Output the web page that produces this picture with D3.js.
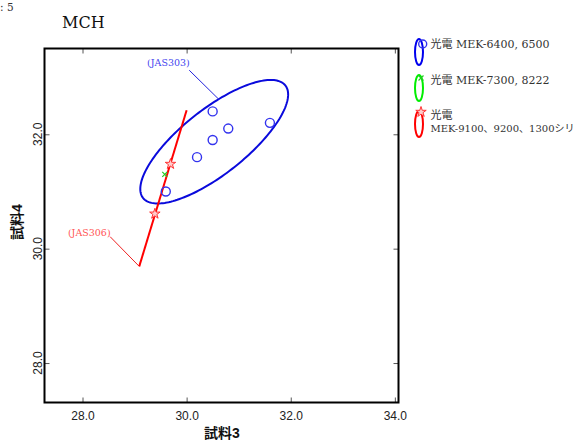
<!DOCTYPE html>
<html>
<head>
<meta charset="utf-8">
<script src="https://cdn.jsdelivr.net/npm/d3@7"></script>
<style>
  html, body { margin: 0; padding: 0; background: #fff; }
  svg { display: block; }
</style>
</head>
<body>
<div id="chart"></div>
<script>
// ---------- data ----------
const xTicks = [28, 30, 32, 34];
const yTicks = [28, 30, 32];
const xDomain = [27.27, 34.07];
const yDomain = [27.31, 33.50];

// 光電 MEK-6400, 6500 (blue circles)
const blueX = [30.5, 31.6, 30.8, 30.5, 30.2, 29.6];
const blueY = [32.4, 32.2, 32.1, 31.9, 31.6, 31.0];
// 光電 MEK-7300, 8222 (green x)
const greenX = [29.58];
const greenY = [31.30];
// 光電 MEK-9100、9200、1300シリーズ (red stars)
const redX = [29.69, 29.39];
const redY = [31.48, 30.61];
// red regression segment
const redLineX = [29.09, 30.00];
const redLineY = [29.69, 32.42];
// blue ellipse: centre, spreads, correlation
const ellCenter = [30.53, 31.87];
const ellSpread = [1.42, 1.08];
const ellRho = 0.765;

// annotations
const annoLabels = ["(JAS303)", "(JAS306)"];
const annoTextX = [29.65, 28.13];
const annoTextY = [33.19, 30.23];
const annoFromX = [30.05, 28.53];
const annoFromY = [33.12, 30.21];
const annoToX = [30.62, 29.09];
const annoToY = [32.61, 29.69];
const annoColors = ["#4444ee", "#ff5555"];

const legendLabels = [["光電 MEK-6400, 6500"], ["光電 MEK-7300, 8222"], ["光電", "MEK-9100、9200、1300シリ"]];
const legendColors = ["#0000ee", "#00ee00", "#ff0000"];

// ---------- drawing ----------
const W = 580, H = 441;
const svg = d3.select("#chart").append("svg").attr("width", W).attr("height", H);

const x = d3.scaleLinear().domain(xDomain).range([44.5, 398.5]);
const y = d3.scaleLinear().domain(yDomain).range([402.5, 48.5]);

const serif = "'DejaVu Serif', 'Liberation Serif', 'Noto Sans CJK JP', serif";
const sans = "'Liberation Sans', Arial, 'Noto Sans CJK JP', sans-serif";

svg.append("text").attr("x", 0).attr("y", 11).attr("font-family", serif)
  .attr("font-size", 10.5).attr("fill", "#333").text(": 5");

svg.append("text").attr("x", 62).attr("y", 28).attr("font-family", serif)
  .attr("font-size", 16).attr("fill", "#111").text("MCH");

// axes (ticks inward)
const axisStyle = g => {
  g.select(".domain").remove();
  g.selectAll(".tick line").attr("stroke", "#555").attr("stroke-width", 1);
};
svg.append("g").attr("transform", `translate(0,${y.range()[0]})`)
  .call(d3.axisBottom(x).tickValues(xTicks).tickSize(-5).tickPadding(9).tickFormat(d3.format(".1f")))
  .call(axisStyle)
  .call(g => g.selectAll("text").attr("font-family", sans).attr("font-size", 12).attr("fill", "#222"));
svg.append("g").attr("transform", `translate(0,${y.range()[1]})`)
  .call(d3.axisTop(x).tickValues(xTicks).tickSize(-5).tickFormat(""))
  .call(axisStyle);
svg.append("g").attr("transform", `translate(${x.range()[0]},0)`)
  .call(d3.axisLeft(y).tickValues(yTicks).tickSize(-5).tickFormat(""))
  .call(axisStyle);
svg.append("g").attr("transform", `translate(${x.range()[1]},0)`)
  .call(d3.axisRight(y).tickValues(yTicks).tickSize(-5).tickFormat(""))
  .call(axisStyle);

svg.append("g").selectAll("text").data(yTicks).join("text")
  .attr("transform", d => `translate(41.5,${y(d)}) rotate(-90)`)
  .attr("text-anchor", "middle").attr("font-family", sans).attr("font-size", 12)
  .attr("fill", "#222").text(d3.format(".1f"));

// frame
svg.append("rect").attr("x", x.range()[0]).attr("y", y.range()[1])
  .attr("width", x.range()[1] - x.range()[0]).attr("height", y.range()[0] - y.range()[1])
  .attr("fill", "none").attr("stroke", "#000").attr("stroke-width", 2);

// axis titles
svg.append("text").attr("x", 222).attr("y", 437.5).attr("text-anchor", "middle")
  .attr("font-family", sans).attr("font-weight", "bold").attr("font-size", 14).attr("fill", "#111").text("試料3");
svg.append("text").attr("transform", "translate(22,222) rotate(-90)").attr("text-anchor", "middle")
  .attr("font-family", sans).attr("font-weight", "bold").attr("font-size", 14).attr("fill", "#111").text("試料4");

const plot = svg.append("g");

// ellipse
const ts = d3.range(0, 2 * Math.PI + 0.01, Math.PI / 90);
const ellPts = ts.map(t => [
  ellCenter[0] + ellSpread[0] * Math.cos(t),
  ellCenter[1] + ellSpread[1] * (ellRho * Math.cos(t) + Math.sqrt(1 - ellRho * ellRho) * Math.sin(t))
]);
plot.append("path").datum(ellPts)
  .attr("d", d3.line().x(d => x(d[0])).y(d => y(d[1])).curve(d3.curveLinearClosed))
  .attr("fill", "none").attr("stroke", "#0a0adc").attr("stroke-width", 2);

// annotation leaders and labels
annoLabels.forEach((lab, i) => {
  plot.append("line").attr("x1", x(annoFromX[i])).attr("y1", y(annoFromY[i]))
    .attr("x2", x(annoToX[i])).attr("y2", y(annoToY[i]))
    .attr("stroke", i === 0 ? "#2222dd" : "#ee2222").attr("stroke-width", 1);
  plot.append("text").attr("x", x(annoTextX[i])).attr("y", y(annoTextY[i]))
    .attr("text-anchor", "middle").attr("font-family", serif).attr("font-size", 9.5)
    .attr("fill", annoColors[i]).text(lab);
});

// red line
plot.append("line").attr("x1", x(redLineX[0])).attr("y1", y(redLineY[0]))
  .attr("x2", x(redLineX[1])).attr("y2", y(redLineY[1]))
  .attr("stroke", "#ff0000").attr("stroke-width", 2);

// blue circles
plot.append("g").selectAll("circle").data(blueX).join("circle")
  .attr("cx", d => x(d)).attr("cy", (d, i) => y(blueY[i])).attr("r", 4.5)
  .attr("fill", "none").attr("stroke", "#3333ee").attr("stroke-width", 1.4);

// green x
const cross = d3.symbol().type(d3.symbolX).size(18);
plot.append("g").selectAll("path").data(greenX).join("path")
  .attr("transform", (d, i) => `translate(${x(d)},${y(greenY[i])})`)
  .attr("d", cross).attr("fill", "none").attr("stroke", "#22cc22").attr("stroke-width", 1.2);

// red stars
const star = d3.symbol().type(d3.symbolStar).size(34);
plot.append("g").selectAll("path").data(redX).join("path")
  .attr("transform", (d, i) => `translate(${x(d)},${y(redY[i])})`)
  .attr("d", star).attr("fill", "#ffcccc").attr("stroke", "#ff3333").attr("stroke-width", 1);

// legend
const legY = [52, 88, 124];
const leg = svg.append("g");
legendLabels.forEach((lines, i) => {
  leg.append("ellipse").attr("cx", 419).attr("cy", legY[i]).attr("rx", 4).attr("ry", 13)
    .attr("fill", "none").attr("stroke", legendColors[i]).attr("stroke-width", 2);
  lines.forEach((t, j) => {
    const tx = leg.append("text").attr("x", 430.5).attr("y", legY[i] - 4 + j * 12.5 - (lines.length > 1 ? 1 : 0))
      .attr("font-family", serif).attr("font-size", j === 1 ? 10 : 11).attr("fill", "#333").text(t);
    if (j === 1) tx.attr("textLength", 144).attr("lengthAdjust", "spacingAndGlyphs");
  });
});
leg.append("circle").attr("cx", 422.7).attr("cy", 44).attr("r", 4)
  .attr("fill", "none").attr("stroke", "#3333ee").attr("stroke-width", 1.4);
leg.append("path").attr("transform", "translate(421,78)").attr("d", cross)
  .attr("fill", "none").attr("stroke", "#22cc22").attr("stroke-width", 1.2);
leg.append("path").attr("transform", "translate(421,112)").attr("d", star)
  .attr("fill", "#ffcccc").attr("stroke", "#ff3333").attr("stroke-width", 1);
</script>
</body>
</html>
